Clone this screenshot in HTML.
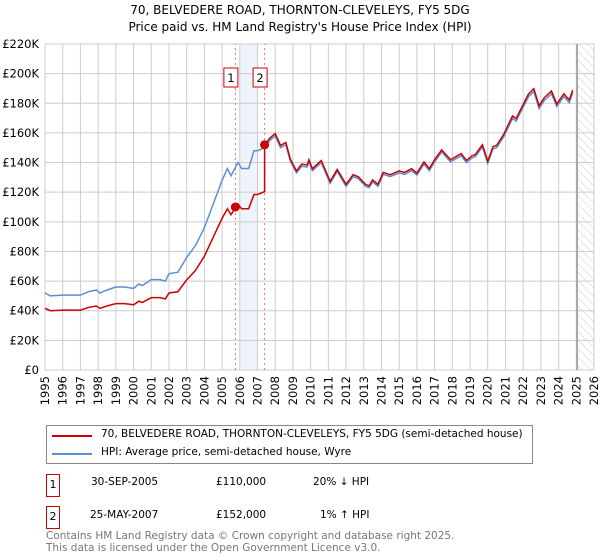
<!DOCTYPE html>
<html><head><meta charset="utf-8"><style>
body{margin:0;background:#fff;font-family:"DejaVu Sans","Liberation Sans",sans-serif;}
#wrap{position:relative;width:600px;height:560px;overflow:hidden;}
.t{position:absolute;white-space:nowrap;}
</style></head><body><div id="wrap">
<svg id="chart" width="600" height="410" style="position:absolute;left:0;top:0;font-family:'DejaVu Sans',sans-serif">
<text x="300" y="14" text-anchor="middle" font-size="12" fill="#000">70, BELVEDERE ROAD, THORNTON-CLEVELEYS, FY5 5DG</text>
<text x="300" y="31" text-anchor="middle" font-size="12" fill="#000">Price paid vs. HM Land Registry's House Price Index (HPI)</text>
</svg>
<div style="position:absolute;left:46px;top:425px;width:485px;height:37px;border:1px solid #888;">
 <div style="position:absolute;left:5px;top:9px;width:40px;height:2px;background:#cc0000"></div>
 <div class="t" style="left:54px;top:2px;font-size:10.5px">70, BELVEDERE ROAD, THORNTON-CLEVELEYS, FY5 5DG (semi-detached house)</div>
 <div style="position:absolute;left:5px;top:27px;width:40px;height:2px;background:#5b8fd4"></div>
 <div class="t" style="left:54px;top:20px;font-size:10.5px">HPI: Average price, semi-detached house, Wyre</div>
</div>
<div style="position:absolute;left:46px;top:474px;width:12px;height:21px;border:1px solid #c00;font-size:11px;text-align:center;line-height:20px">1</div>
<div class="t" style="left:91px;top:476px;font-size:10.5px">30-SEP-2005</div>
<div class="t" style="left:216px;top:476px;font-size:10.5px">£110,000</div>
<div class="t" style="left:313px;top:476px;font-size:10.5px">20% ↓ HPI</div>
<div style="position:absolute;left:46px;top:506px;width:12px;height:21px;border:1px solid #c00;font-size:11px;text-align:center;line-height:20px">2</div>
<div class="t" style="left:90px;top:509px;font-size:10.5px">25-MAY-2007</div>
<div class="t" style="left:216px;top:509px;font-size:10.5px">£152,000</div>
<div class="t" style="left:320px;top:509px;font-size:10.5px">1% ↑ HPI</div>
<div class="t" style="left:46px;top:531px;font-size:10.5px;color:#777;line-height:11.5px">Contains HM Land Registry data © Crown copyright and database right 2025.<br>This data is licensed under the Open Government Licence v3.0.</div>
</div>
<script>
const hpiYears=[1995,1995.3,1996,1997,1997.5,1997.9,1998.1,1998.5,1999,1999.5,2000,2000.3,2000.5,2001,2001.5,2001.8,2002,2002.5,2003,2003.5,2004,2004.5,2005,2005.3,2005.5,2005.9,2006.1,2006.5,2006.8,2007,2007.4,2007.7,2008,2008.3,2008.6,2008.85,2009.2,2009.5,2009.8,2009.9,2010.1,2010.6,2011.1,2011.5,2012,2012.4,2012.7,2013.1,2013.3,2013.5,2013.8,2014.1,2014.5,2015,2015.3,2015.7,2016,2016.4,2016.7,2017,2017.4,2017.9,2018.5,2018.8,2019.1,2019.3,2019.7,2020,2020.3,2020.5,2020.9,2021.4,2021.6,2022.3,2022.6,2022.9,2023.2,2023.6,2023.9,2024.3,2024.6,2024.8];
const hpiValues=[52,50,50.5,50.5,53,54,52,54,56,56,55,58,57,61,61,60,65,66,76,84,96,112,128,136,131,140,136,136,148,148,150,155,158,150,152,141,133,137.6,137,140.5,134.5,140,126,134,124,130.5,129,124,123,127,124,132,130.5,133,132,134.5,131.5,139,134.5,140.5,147,140.5,144.6,140,143,144,150.5,139.5,149.3,150,157.4,169.8,168,184.4,188,176.5,182,186.4,177.8,184.6,180.4,187];
const saleDates=[2005.75,2007.4];
const salePrices=[110,152];
const saleRatios=[0.80,1.01];
const yTicks=[0,20,40,60,80,100,120,140,160,180,200,220];
const xTicks=[];for(let y=1995;y<=2026;y++)xTicks.push(y);
const X=y=>45+(y-1995)*(594-45)/31;
const Y=v=>370-v*(326/220);
const svg=document.getElementById('chart');const NS='http://www.w3.org/2000/svg';
function mk(tag,attrs,name,parent){const e=document.createElementNS(NS,tag);for(const k in attrs)e.setAttribute(k,attrs[k]);


(parent||svg).appendChild(e);return e;}
const defs=mk('defs',{},'defs');
const pat=mk('pattern',{id:'hatch',width:6,height:6,patternUnits:'userSpaceOnUse',patternTransform:'rotate(-45)'},'hatch-pattern',defs);
mk('line',{x1:0,y1:0,x2:0,y2:6,stroke:'#ccc','stroke-width':1},'hatch-line',pat);
mk('rect',{x:X(2006),y:Y(220),width:X(2007)-X(2006),height:Y(0)-Y(220),fill:'#eef3fc'},'highlight-band');
mk('rect',{x:X(2025.05),y:Y(220),width:X(2026)-X(2025.05),height:Y(0)-Y(220),fill:'url(#hatch)'},'forecast-hatch');
yTicks.forEach(v=>{mk('line',{x1:X(1995),x2:X(2026),y1:Y(v),y2:Y(v),stroke:'#ccc'},'y-gridline');
const t=mk('text',{x:39,y:Y(v)+4,'text-anchor':'end','font-size':11.5},'y-tick-label');t.textContent=v===0?'£0':'£'+v+'K';});
xTicks.forEach(y=>{mk('line',{x1:X(y),x2:X(y),y1:Y(0),y2:Y(220),stroke:'#ccc'},'x-gridline');
const t=mk('text',{x:0,y:0,'font-size':11.5,'text-anchor':'end',transform:`translate(${X(y)+4},${Y(0)+6}) rotate(-90)`},'x-tick-label');t.textContent=y;});
mk('line',{x1:X(2025.05),x2:X(2025.05),y1:Y(0),y2:Y(220),stroke:'#999','stroke-width':1.5},'forecast-boundary');
saleDates.forEach((d,i)=>{mk('line',{x1:X(d),x2:X(d),y1:Y(0),y2:Y(220),stroke:'#f07070','stroke-dasharray':'2,3'},'sale-vline');
mk('rect',{x:X(d)-11.5,y:68,width:14,height:19,fill:'#fff',stroke:'#c00'},'sale-label-box');
const t=mk('text',{x:X(d)-4.5,y:82,'text-anchor':'middle','font-size':11.5},'sale-label');t.textContent=i+1;});
mk('polyline',{points:hpiYears.map((y,i)=>X(y)+','+Y(hpiValues[i])).join(' '),fill:'none',stroke:'#5b8fd4','stroke-width':1.5},'hpi-line');
const redPts=hpiYears.map((y,i)=>{const r=y<saleDates[1]?saleRatios[0]:saleRatios[1];return X(y)+','+Y(hpiValues[i]*r)});
const idx=hpiYears.findIndex(y=>y>=saleDates[1]);
redPts.splice(idx,0,X(saleDates[1])+','+Y(salePrices[1]/saleRatios[1]*saleRatios[0]));
mk('polyline',{points:redPts.join(' '),fill:'none',stroke:'#cc0000','stroke-width':1.5},'property-price-line');
saleDates.forEach((d,i)=>mk('circle',{cx:X(d),cy:Y(salePrices[i]),r:4.5,fill:'#cc0000'},'sale-point'));
</script>
</body></html>
